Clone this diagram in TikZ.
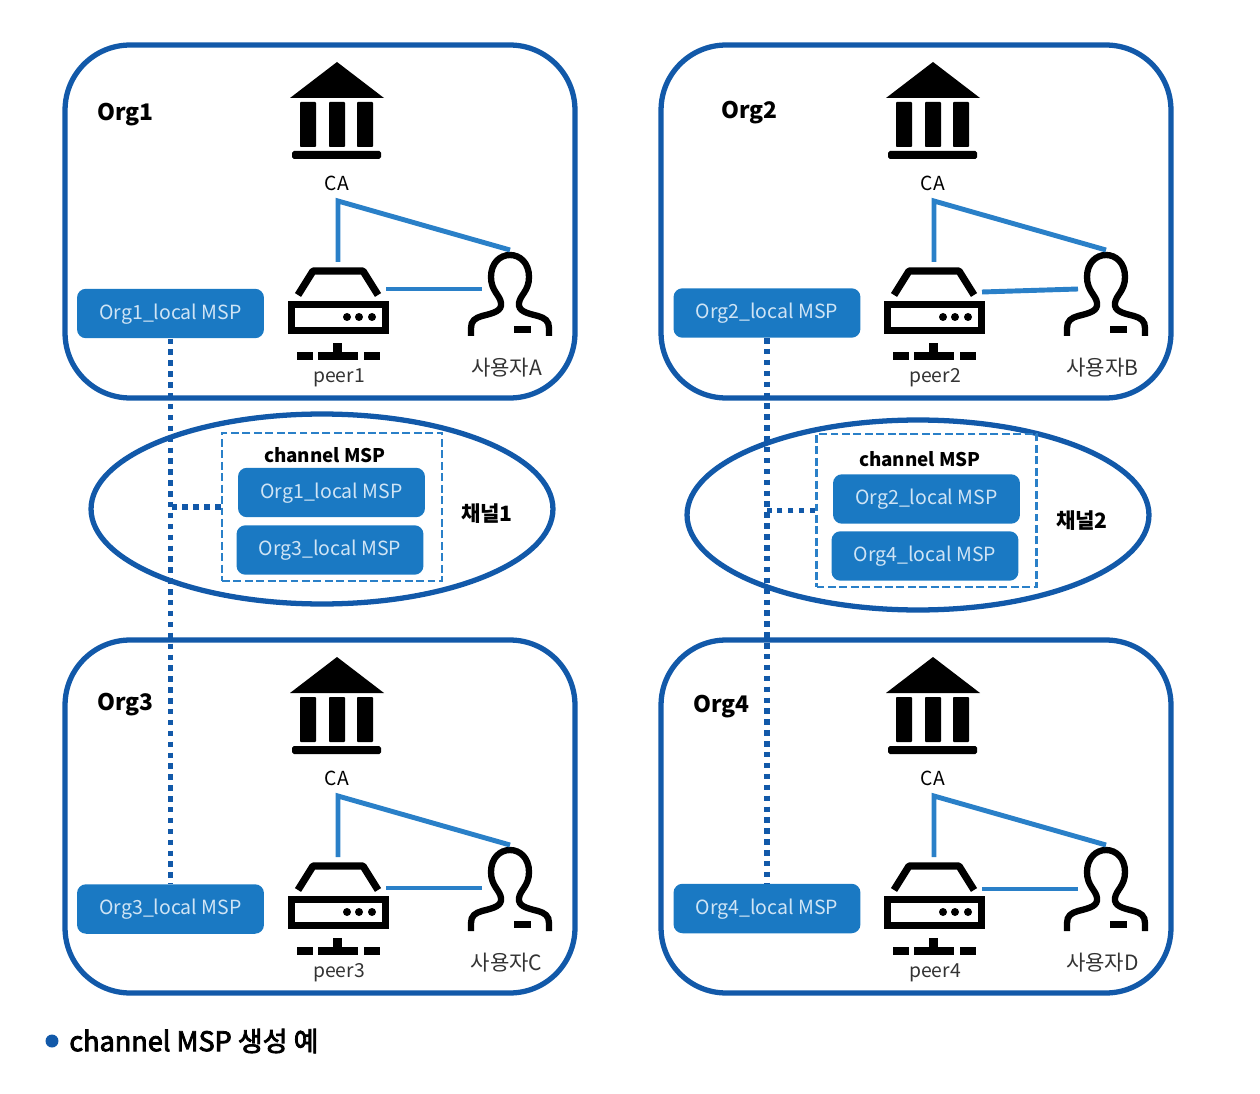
\documentclass[tikz,border=0pt]{standalone}
\usepackage{fontspec}
\setmainfont{Noto Sans CJK KR}
\newfontfamily\capfont[FakeBold=3]{Noto Sans CJK KR}
\usetikzlibrary{positioning,shapes.geometric}

\definecolor{frameblue}{HTML}{1259A9}
\definecolor{lineblue}{HTML}{2A80C8}
\definecolor{mspblue}{HTML}{1A79C3}
\definecolor{msptext}{HTML}{CFE4F5}
\definecolor{graytext}{HTML}{333333}

\tikzset{
  orgbox/.style={draw=frameblue,line width=3pt,rounded corners=1.3cm,minimum width=10.2cm,minimum height=7.06cm,inner sep=0},
  chanoval/.style={draw=frameblue,line width=3pt,ellipse,minimum width=9.24cm,minimum height=3.8cm,inner sep=0},
  chanbox/.style={draw=lineblue,line width=1.6pt,dash pattern=on 4.5pt off 2pt,minimum width=4.4cm,inner sep=0},
  mspbox/.style={fill=mspblue,text=msptext,rounded corners=0.18cm,minimum width=3.74cm,minimum height=0.99cm,inner sep=0,font=\fontsize{11.1}{13}\selectfont},
  orglabel/.style={anchor=west,inner sep=0,font=\fontsize{13}{15}\bfseries\selectfont},
  iconlabel/.style={inner sep=0,text=graytext,font=\fontsize{11}{13}\selectfont},
  solidlink/.style={draw=lineblue,line width=2.8pt},
  dotlink/.style={draw=frameblue,line width=3pt,dash pattern=on 3.1pt off 3.1pt},
  pics/bank/.style={code={
    \fill (0,0) -- (47,36) -- (-47,36) -- cycle;
    \foreach \c in {-37,-8,20} {
      \fill[rounded corners=0.5pt] (\c,40) rectangle (\c+16,85);
    }
    \fill[rounded corners=1pt] (-45,89) rectangle (44,97);
  }},
  pics/server/.style={code={
    \coordinate (-top) at (0,-6);
    \coordinate (-east) at (48,21);
    \draw[line width=4.1pt,line join=round] (-40,27) -- (-25,3) -- (25,3) -- (40,27);
    \draw[line width=4.1pt] (-46.5,36.5) rectangle (47.5,62.5);
    \foreach \c in {9,21,34} {
      \fill (\c,49) circle (4);
    }
    \fill (-41,84) rectangle (-25,92);
    \fill (-20,84) rectangle (20,92);
    \fill (26,84) rectangle (42,92);
    \fill (-5,75) rectangle (4,84);
  }},
  pics/person/.style={code={
    \coordinate (-head) at (0,-2);
    \coordinate (-west) at (-28,30);
    \draw[line width=3.6pt] (-39,84) -- (-39,76) .. controls (-39,69) and (-35,66) .. (-28,64)
      .. controls (-16,61) and (-8,59) .. (-9,51) .. controls (-10,43) and (-19,39) .. (-19,25)
      .. controls (-19,11) and (-10,3) .. (0,3) .. controls (10,3) and (19,11) .. (19,25)
      .. controls (19,39) and (10,43) .. (9,51) .. controls (8,59) and (16,61) .. (28,64)
      .. controls (35,66) and (39,69) .. (39,76) -- (39,84);
    \fill (4,74) rectangle (21,81);
  }}
}

\begin{document}
\begin{tikzpicture}[x=0.02cm,y=-0.02cm]
\useasboundingbox (0,0) rectangle (1260,1094);

\foreach \n/\ox/\oy/\lx/\ly/\usr/\ya/\yb in {1/0/0/97/115/A/289/289,2/596/0/721/113/B/292/289,3/0/595/97/705/C/293/293,4/596/595/693/707/D/294/294} {
  \node[orgbox] (org\n) at (320+\ox,221.5+\oy) {};
  \node[orglabel] (name\n) at (\lx,\ly) {Org\n};
  \begin{scope}[shift={(\ox,\oy)}]
    \pic (bank\n) at (337,62) {bank};
    \pic (srv\n) at (338,268) {server};
    \pic (usr\n) at (510,252) {person};
    \node[inner sep=0,font=\fontsize{11}{13}\selectfont] (ca\n) at (337,183) {CA};
    \node[iconlabel] (peer\n) at (339,378) {peer\n};
    \node[iconlabel,font=\fontsize{12}{14}\selectfont] (user\n) at (506.5,368) {사용자\usr};
    \coordinate (bend\n) at (338,201);
    \coordinate (pa\n) at (386,\ya);
    \coordinate (pb\n) at (482,\yb);
    \draw[solidlink] (srv\n-top) -- (bend\n) -- (usr\n-head);
    \draw[solidlink] (pa\n) -- (pb\n);
  \end{scope}
}

% channels
\node[chanoval] (oval1) at (322,509) {};
\node[chanoval] (oval2) at (918,515) {};
\node[chanbox,minimum height=2.96cm] (chan1) at (332,507) {};
\node[chanbox,minimum height=3.06cm] (chan2) at (926.5,510.5) {};
\node[inner sep=0,font=\fontsize{10.7}{13}\bfseries\selectfont] (title1) at (325,455) {channel MSP};
\node[inner sep=0,font=\fontsize{10.7}{13}\bfseries\selectfont] (title2) at (920,459) {channel MSP};
\node[inner sep=0,font=\fontsize{12}{14}\bfseries\selectfont] (chname1) at (487,514) {채널1};
\node[inner sep=0,font=\fontsize{12}{14}\bfseries\selectfont] (chname2) at (1082,521) {채널2};

% local MSP boxes
\foreach \id/\x/\y/\txt in {m1/170.5/313.5/Org1,m2/767/313/Org2,m3/170.5/909/Org3,m4/767/908.5/Org4,a1/331.5/492.5/Org1,a3/330/550/Org3,b2/926.5/499/Org2,b4/925/556/Org4} {
  \node[mspbox] (\id) at (\x,\y) {\raisebox{-3.3pt}[0pt][0pt]{\txt\_local MSP}};
}

\draw[dotlink] (m1.south) -- (m3.north);
\draw[dotlink] (m2.south) -- (m4.north);
\draw[dotlink] (chan1.west) -- (chan1.west -| m1.south);
\draw[dotlink] (chan2.west) -- (chan2.west -| m2.south);

% caption
\node[circle,fill=frameblue,minimum size=0.26cm,inner sep=0] (bullet) at (52,1041) {};
\node[anchor=west,inner sep=0,font=\capfont\fontsize{15.4}{17}\selectfont] (caption) at (69,1041) {channel MSP 생성 예};
\end{tikzpicture}
\end{document}
